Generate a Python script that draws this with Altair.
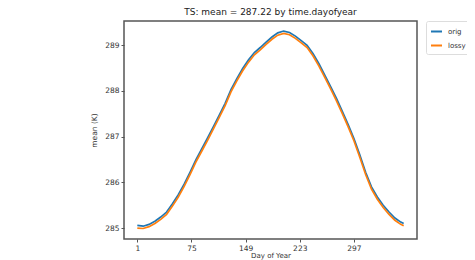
import altair as alt
import pandas as pd

days = [1, 9, 17, 25, 33, 41, 49, 57, 65, 73, 81, 89, 97, 105, 113, 121, 129, 137, 145, 153,
        161, 169, 177, 185, 193, 201, 209, 217, 225, 233, 241, 249, 257, 265, 273, 281, 289,
        297, 305, 313, 321, 329, 337, 345, 353, 361, 365]
orig = [285.06, 285.04, 285.08, 285.15, 285.24, 285.35, 285.53, 285.73, 285.96, 286.22,
        286.49, 286.73, 286.97, 287.22, 287.47, 287.73, 288.03, 288.27, 288.49, 288.68,
        288.84, 288.95, 289.07, 289.18, 289.27, 289.31, 289.28, 289.2, 289.1, 289.0,
        288.82, 288.6, 288.35, 288.1, 287.84, 287.56, 287.27, 286.96, 286.6, 286.22,
        285.9, 285.68, 285.5, 285.35, 285.22, 285.13, 285.1]
lossy = [285.0, 284.99, 285.03, 285.1, 285.19, 285.3, 285.48, 285.68, 285.91, 286.17,
         286.44, 286.68, 286.92, 287.17, 287.42, 287.68, 287.98, 288.22, 288.44, 288.63,
         288.79, 288.9, 289.02, 289.13, 289.22, 289.26, 289.23, 289.15, 289.05, 288.95,
         288.77, 288.55, 288.3, 288.05, 287.79, 287.51, 287.22, 286.91, 286.55, 286.17,
         285.85, 285.63, 285.45, 285.3, 285.17, 285.08, 285.05]
series = ["orig", "lossy"]
colors = ["#1f77b4", "#ff7f0e"]
x_ticks = [1, 75, 149, 223, 297]
y_ticks = [285, 286, 287, 288, 289]

rows = []
for name, vals in zip(series, [orig, lossy]):
    for d, v in zip(days, vals):
        rows.append({"day": d, "mean": v, "series": name})
df = pd.DataFrame(rows)

FONT = "DejaVu Sans"

chart = alt.Chart(df).mark_line(strokeWidth=1.7).encode(
    x=alt.X("day:Q",
            scale=alt.Scale(domain=[-17.2, 383.2], nice=False, zero=False),
            axis=alt.Axis(values=x_ticks, title="Day of Year", grid=False, domain=False,
                          tickSize=3, tickColor="#555", labelColor="#333",
                          labelFontSize=7.5, labelFont=FONT, labelPadding=2,
                          titleFont=FONT, titleFontSize=7, titleFontWeight="normal",
                          titleColor="#333", titlePadding=0)),
    y=alt.Y("mean:Q",
            scale=alt.Scale(domain=[284.76, 289.53], nice=False, zero=False),
            axis=alt.Axis(values=y_ticks, title="mean (K)", grid=False, domain=False,
                          tickSize=3, tickColor="#555", labelColor="#333",
                          labelFontSize=7.5, labelFont=FONT, labelPadding=2,
                          titleFont=FONT, titleFontSize=7.5, titleFontWeight="normal",
                          titleColor="#333", titlePadding=6)),
    color=alt.Color("series:N",
                    scale=alt.Scale(domain=series, range=colors),
                    sort=series,
                    legend=alt.Legend(title=None, orient="none", legendX=302, legendY=0,
                                      symbolType="stroke", symbolSize=121,
                                      symbolStrokeWidth=2, labelFontSize=7,
                                      labelFont=FONT, labelColor="#333",
                                      fillColor="white", strokeColor="#ddd",
                                      cornerRadius=2, padding=4, rowPadding=3,
                                      labelOffset=5)),
    order=alt.Order("series:N", sort="descending"),
).properties(
    width=293,
    height=218,
    title=alt.TitleParams("TS: mean = 287.22 by time.dayofyear", font=FONT,
                          fontSize=9, fontWeight="normal", color="#222",
                          anchor="middle", offset=4),
    autosize=alt.AutoSizeParams(type="none"),
    padding={"left": 116, "top": 13, "right": 50, "bottom": 21},
).configure_view(stroke="#555", strokeWidth=1.5)

chart.save("out.html", embed_options={"renderer": "svg", "actions": False})
